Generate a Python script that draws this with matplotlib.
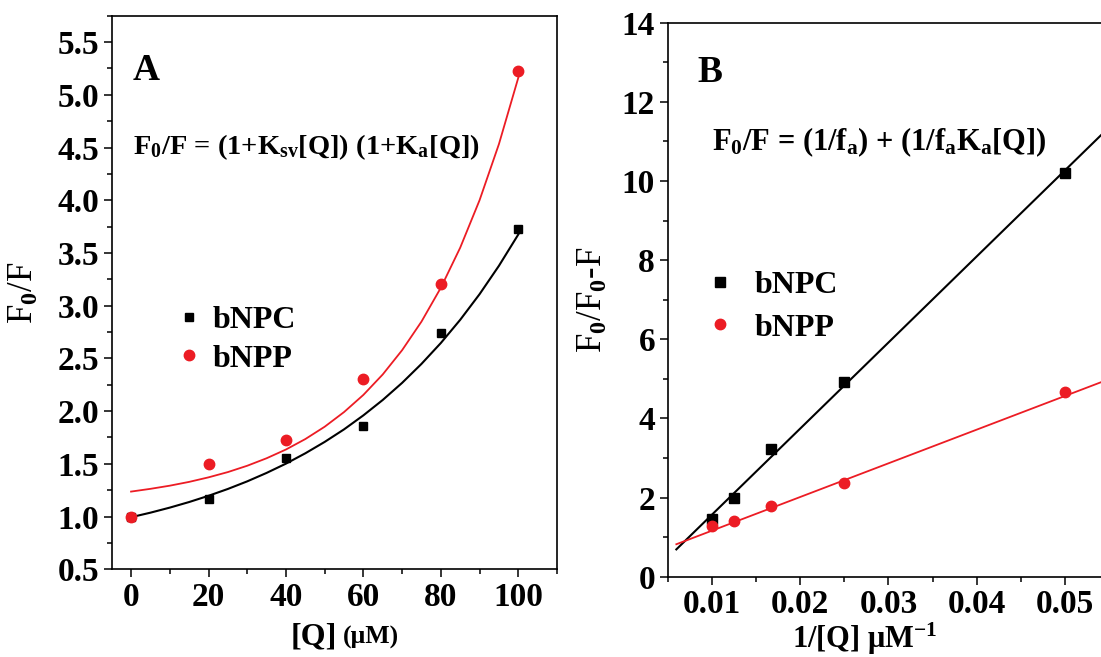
import matplotlib
matplotlib.use('Agg')
import matplotlib.pyplot as plt
from matplotlib.ticker import MultipleLocator, FixedLocator

plt.rcParams['font.family'] = 'Liberation Serif'
plt.rcParams['font.weight'] = 'bold'
plt.rcParams['mathtext.fontset'] = 'custom'
plt.rcParams['mathtext.rm'] = 'Liberation Serif:bold'
plt.rcParams['mathtext.it'] = 'Liberation Serif:bold'
plt.rcParams['mathtext.bf'] = 'Liberation Serif:bold'

RED = '#ec1c24'

# --- panel A data : F0/F vs [Q] ---
q_uM = [0, 20, 40, 60, 80, 100]
f0f_npc = [1.00, 1.17, 1.56, 1.86, 2.74, 3.73]
f0f_npp = [1.00, 1.50, 1.73, 2.30, 3.21, 5.23]

# fitted curves
fit_q = [0, 5, 10, 15, 20, 25, 30, 35, 40, 45, 50, 55, 60, 65, 70, 75, 80, 85, 90, 95, 100]
fit_npc = [0.994, 1.037, 1.085, 1.138, 1.197, 1.262, 1.334, 1.414, 1.502, 1.600, 1.708,
           1.827, 1.960, 2.106, 2.268, 2.448, 2.646, 2.866, 3.109, 3.378, 3.675]
fit_npp = [1.237, 1.263, 1.293, 1.329, 1.372, 1.422, 1.482, 1.553, 1.636, 1.735, 1.852,
           1.991, 2.154, 2.348, 2.578, 2.849, 3.170, 3.550, 4.000, 4.532, 5.161]

# --- panel B data : F0/(F0-F) vs 1/[Q] ---
inv_q = [0.01, 0.0125, 0.01667, 0.025, 0.05]
ratio_npc = [1.47, 2.00, 3.22, 4.92, 10.20]
ratio_npp = [1.29, 1.41, 1.78, 2.37, 4.67]

line_x = [0.006, 0.056]
line_npc = [0.69, 11.58]
line_npp = [0.82, 5.08]

x_ticks_b = [0.01, 0.02, 0.03, 0.04, 0.05]

W, H = 1101, 657
fig = plt.figure(figsize=(W / 100, H / 100), dpi=100)


def px(x, y):
    return x / W, 1 - y / H


def style_axes(ax):
    for s in ax.spines.values():
        s.set_linewidth(1.2)
    ax.tick_params(which='both', direction='out', top=False, right=False, width=1.1,
                   labelsize=24, pad=3)
    ax.tick_params(which='major', length=6)
    ax.tick_params(which='minor', length=3.5)


# ----- A -----
axA = fig.add_axes([111.7 / W, 1 - 569.3 / H, (557 - 111.7) / W, (569.3 - 15.7) / H])
axA.plot(fit_q, fit_npc, color='black', lw=1.5, zorder=2)
axA.plot(fit_q, fit_npp, color=RED, lw=1.3, zorder=2)
axA.plot(q_uM, f0f_npc, 's', color='black', ms=6, ls='none', label='bNPC', zorder=3)
axA.plot(q_uM, f0f_npp, 'o', color=RED, ms=7.5, ls='none', label='bNPP', zorder=3)
axA.set_xlim(-5, 110)
axA.set_ylim(0.5, 5.75)
axA.xaxis.set_major_locator(MultipleLocator(20))
axA.xaxis.set_minor_locator(MultipleLocator(10))
axA.yaxis.set_major_locator(MultipleLocator(0.5))
axA.yaxis.set_minor_locator(MultipleLocator(0.25))
axA.yaxis.set_major_formatter(lambda v, p: f'{v:.1f}')
style_axes(axA)
axA.set_ylabel(r'F$_0$/F', fontsize=25)
axA.yaxis.set_label_coords(-0.159, 0.5)
axA.legend(loc='center left', bbox_to_anchor=px(179, 339.5), bbox_transform=fig.transFigure,
           frameon=False, fontsize=23, borderpad=0, borderaxespad=0,
           handlelength=0.6, handletextpad=0.45, labelspacing=0.3)

fig.text(*px(133, 80), 'A', fontsize=27, ha='left', va='baseline')
fig.text(*px(133, 154), r'F$_0$/F = (1+K$_{sv}$[Q]) (1+K$_a$[Q])', fontsize=20.5,
         ha='left', va='baseline')
fig.text(*px(291, 644), '[Q]', fontsize=23, ha='left', va='baseline')
fig.text(*px(343, 644), '(\u03bcM)', fontsize=18.5, ha='left', va='baseline')

# ----- B -----
axB = fig.add_axes([667.5 / W, 1 - 576.7 / H, 486 / W, (576.7 - 22.7) / H])
axB.plot(line_x, line_npc, color='black', lw=1.5, zorder=2)
axB.plot(line_x, line_npp, color=RED, lw=1.3, zorder=2)
axB.plot(inv_q, ratio_npc, 's', color='black', ms=6.5, ls='none', label='bNPC', zorder=3)
axB.plot(inv_q, ratio_npp, 'o', color=RED, ms=7.5, ls='none', label='bNPP', zorder=3)
axB.set_xlim(0.005, 0.060)
axB.set_ylim(0, 14)
axB.xaxis.set_major_locator(FixedLocator(x_ticks_b))
axB.xaxis.set_minor_locator(MultipleLocator(0.005))
axB.yaxis.set_major_locator(MultipleLocator(2))
axB.yaxis.set_minor_locator(MultipleLocator(1))
axB.xaxis.set_major_formatter(lambda v, p: f'{v:.2f}')
style_axes(axB)
axB.set_ylabel(r'F$_0$/F$_0$-F', fontsize=25)
axB.yaxis.set_label_coords(-0.118, 0.5)
axB.legend(loc='center left', bbox_to_anchor=px(710, 306.5), bbox_transform=fig.transFigure,
           frameon=False, fontsize=23, borderpad=0, borderaxespad=0,
           handlelength=0.6, handletextpad=0.8, labelspacing=0.42)

fig.text(*px(697, 81.7), 'B', fontsize=27, ha='left', va='baseline')
fig.text(*px(712, 150), r'F$_0$/F = (1/f$_a$) + (1/f$_a$K$_a$[Q])', fontsize=22,
         ha='left', va='baseline')
fig.text(*px(865, 648), r'1/[Q] $\mu$M$^{-1}$', fontsize=22, ha='center', va='baseline')

fig.savefig('out.png', dpi=100)
